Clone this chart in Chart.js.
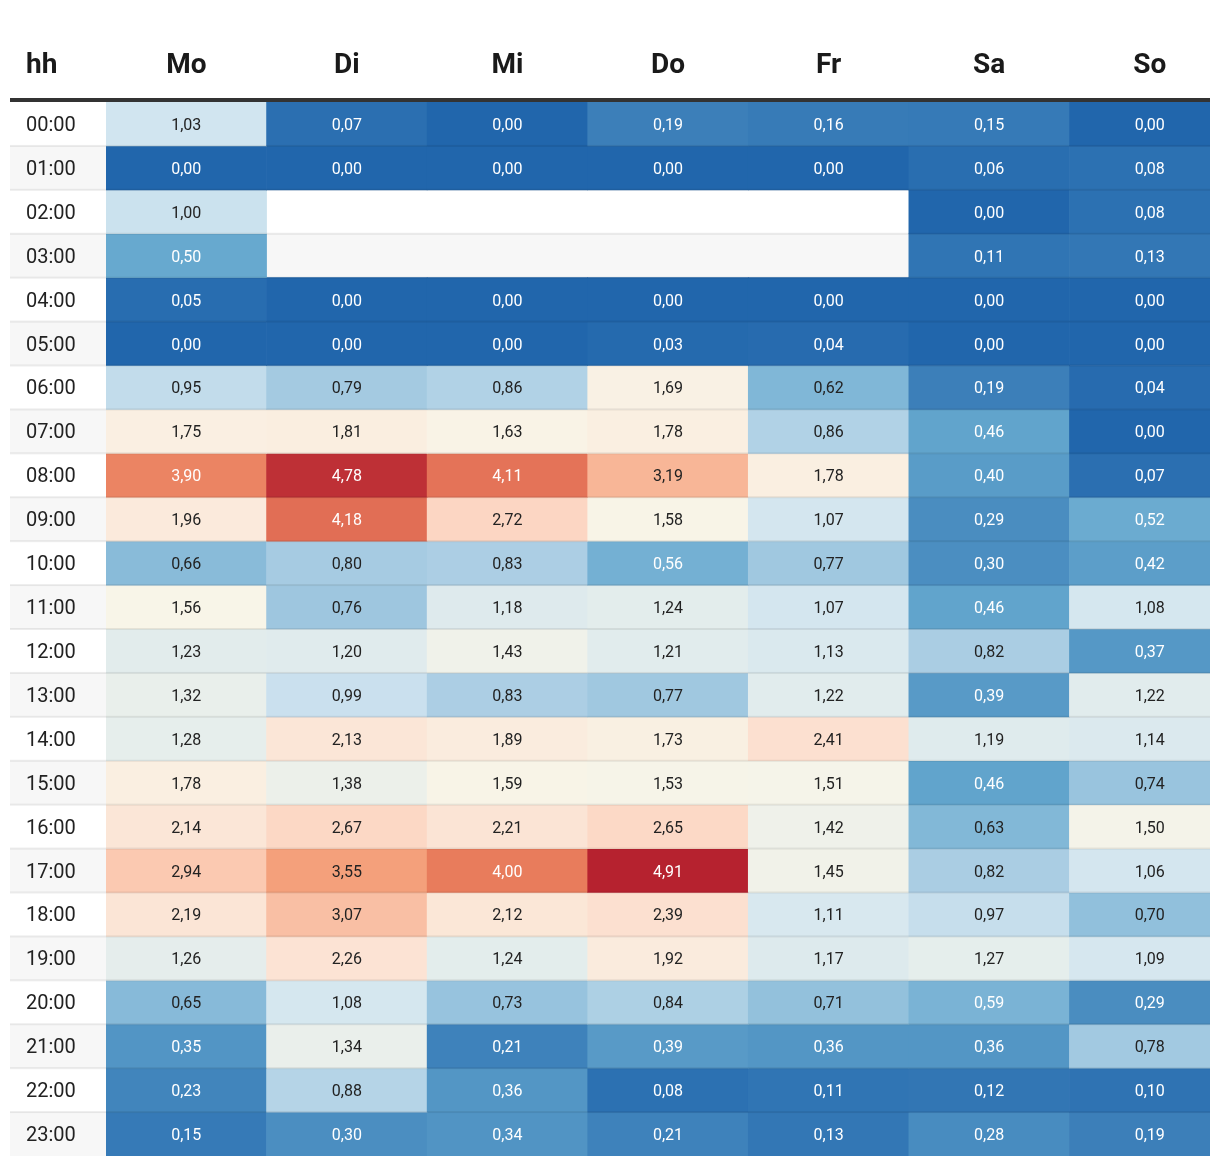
<!DOCTYPE html>
<html>
<head>
<meta charset="utf-8">
<script src="https://cdn.jsdelivr.net/npm/chart.js@4.4.1/dist/chart.umd.min.js"></script>
<style>
  html, body { margin: 0; padding: 0; background: #ffffff; overflow: hidden; }
  #wrap { width: 1240px; height: 1166px; }
</style>
</head>
<body>
<div id="wrap"><canvas id="c" width="1240" height="1166"></canvas></div>
<script>
const days = ['Mo', 'Di', 'Mi', 'Do', 'Fr', 'Sa', 'So'];
const hours = ['00:00','01:00','02:00','03:00','04:00','05:00','06:00','07:00','08:00','09:00','10:00','11:00',
               '12:00','13:00','14:00','15:00','16:00','17:00','18:00','19:00','20:00','21:00','22:00','23:00'];

const valuesMo = [1.03,0.00,1.00,0.50,0.05,0.00,0.95,1.75,3.90,1.96,0.66,1.56,1.23,1.32,1.28,1.78,2.14,2.94,2.19,1.26,0.65,0.35,0.23,0.15];
const valuesDi = [0.07,0.00,null,null,0.00,0.00,0.79,1.81,4.78,4.18,0.80,0.76,1.20,0.99,2.13,1.38,2.67,3.55,3.07,2.26,1.08,1.34,0.88,0.30];
const valuesMi = [0.00,0.00,null,null,0.00,0.00,0.86,1.63,4.11,2.72,0.83,1.18,1.43,0.83,1.89,1.59,2.21,4.00,2.12,1.24,0.73,0.21,0.36,0.34];
const valuesDo = [0.19,0.00,null,null,0.00,0.03,1.69,1.78,3.19,1.58,0.56,1.24,1.21,0.77,1.73,1.53,2.65,4.91,2.39,1.92,0.84,0.39,0.08,0.21];
const valuesFr = [0.16,0.00,null,null,0.00,0.04,0.62,0.86,1.78,1.07,0.77,1.07,1.13,1.22,2.41,1.51,1.42,1.45,1.11,1.17,0.71,0.36,0.11,0.13];
const valuesSa = [0.15,0.06,0.00,0.11,0.00,0.00,0.19,0.46,0.40,0.29,0.30,0.46,0.82,0.39,1.19,0.46,0.63,0.82,0.97,1.27,0.59,0.36,0.12,0.28];
const valuesSo = [0.00,0.08,0.08,0.13,0.00,0.00,0.04,0.00,0.07,0.52,0.42,1.08,0.37,1.22,1.14,0.74,1.50,1.06,0.70,1.09,0.29,0.78,0.10,0.19];

const seriesByDay = [valuesMo, valuesDi, valuesMi, valuesDo, valuesFr, valuesSa, valuesSo];

// colour scale stops (styling)
const colorStops = [
  [0.00, [33,102,172]],
  [0.50, [103,169,207]],
  [0.80, [166,203,226]],
  [1.03, [209,229,240]],
  [1.25, [228,237,236]],
  [1.56, [248,245,232]],
  [1.80, [250,238,224]],
  [2.40, [252,224,208]],
  [2.80, [252,212,192]],
  [3.20, [248,181,150]],
  [3.55, [244,160,123]],
  [4.00, [232,124,92]],
  [4.20, [224,108,84]],
  [4.91, [182,34,47]]
];
function colorFor(v) {
  if (v == null) return 'rgba(0,0,0,0)';
  let a = colorStops[0], b = colorStops[colorStops.length - 1];
  if (v <= a[0]) return 'rgb(' + a[1].join(',') + ')';
  if (v >= b[0]) return 'rgb(' + b[1].join(',') + ')';
  for (let i = 0; i < colorStops.length - 1; i++) {
    if (v >= colorStops[i][0] && v <= colorStops[i + 1][0]) { a = colorStops[i]; b = colorStops[i + 1]; break; }
  }
  const t = (v - a[0]) / (b[0] - a[0]);
  const c = a[1].map((x, k) => Math.round(x + (b[1][k] - x) * t));
  return 'rgb(' + c.join(',') + ')';
}
function textColorFor(v) {
  return (v < 0.6 || v > 3.7) ? '#ffffff' : '#222222';
}

const RIGHT_EDGE = 1210;
const LEFT_EDGE = 10;

const datasets = hours.map((h, hi) => ({
  label: h,
  data: days.map((d, di) => seriesByDay[di][hi] == null ? null : [hi, hi + 1]),
  cellValues: days.map((d, di) => seriesByDay[di][hi]),
  backgroundColor: days.map((d, di) => colorFor(seriesByDay[di][hi])),
  borderWidth: 0,
  grouped: false,
  barPercentage: 1,
  categoryPercentage: 1
}));

const tablePlugin = {
  id: 'tablePlugin',
  beforeDraw(chart) {
    const ctx = chart.ctx, y = chart.scales.y;
    ctx.save();
    for (let i = 0; i < hours.length; i++) {
      const t = y.getPixelForValue(i), b = y.getPixelForValue(i + 1);
      ctx.fillStyle = (i % 2) ? '#f7f7f7' : '#ffffff';
      ctx.fillRect(LEFT_EDGE, t, RIGHT_EDGE - LEFT_EDGE, b - t);
    }
    ctx.restore();
  },
  beforeDatasetsDraw(chart) {
    const ctx = chart.ctx;
    ctx.save();
    ctx.beginPath();
    ctx.rect(0, 0, RIGHT_EDGE, chart.height);
    ctx.clip();
  },
  afterDatasetsDraw(chart) {
    const ctx = chart.ctx, y = chart.scales.y;
    ctx.restore();
    ctx.save();
    // row separators
    ctx.fillStyle = 'rgba(0,0,0,0.075)';
    for (let i = 1; i < hours.length; i++) {
      const p = y.getPixelForValue(i);
      ctx.fillRect(LEFT_EDGE, p - 1, RIGHT_EDGE - LEFT_EDGE, 2);
    }
    // cell labels
    ctx.font = '16px Roboto';
    ctx.textAlign = 'center';
    ctx.textBaseline = 'middle';
    chart.data.datasets.forEach((ds, di) => {
      const meta = chart.getDatasetMeta(di);
      meta.data.forEach((bar, j) => {
        const v = ds.cellValues[j];
        if (v == null) return;
        const cy = (bar.y + bar.base) / 2;
        ctx.fillStyle = textColorFor(v);
        ctx.fillText(v.toFixed(2).replace('.', ','), bar.x, cy + 2);
      });
    });
    ctx.restore();
  },
  afterDraw(chart) {
    const ctx = chart.ctx, area = chart.chartArea;
    ctx.save();
    ctx.fillStyle = '#333333';
    ctx.fillRect(LEFT_EDGE, area.top - 4, RIGHT_EDGE - LEFT_EDGE, 4);
    ctx.fillStyle = '#1a1a1a';
    ctx.font = 'bold 28px Roboto';
    ctx.textAlign = 'left';
    ctx.textBaseline = 'middle';
    ctx.fillText('hh', 26, 66);
    ctx.restore();
  }
};

new Chart(document.getElementById('c'), {
  type: 'bar',
  data: { labels: days, datasets: datasets },
  options: {
    responsive: false,
    animation: false,
    devicePixelRatio: 1,
    layout: { padding: { left: 26, right: 10, top: 0, bottom: 10 } },
    plugins: { legend: { display: false }, tooltip: { enabled: false } },
    scales: {
      x: {
        type: 'category',
        position: 'top',
        grid: { display: false, drawTicks: false },
        border: { display: false },
        ticks: {
          padding: 19,
          color: '#1a1a1a',
          font: { family: 'Roboto', size: 28, weight: 'bold' },
          maxRotation: 0,
          autoSkip: false
        },
        afterFit(scale) { scale.height = 102; scale.paddingLeft = 0; scale.paddingRight = 0; }
      },
      y: {
        type: 'linear',
        min: 0,
        max: 24,
        reverse: true,
        grid: { display: false, drawTicks: false },
        border: { display: false },
        afterBuildTicks(scale) { scale.ticks = hours.map((h, i) => ({ value: i + 0.5 })); },
        ticks: {
          autoSkip: false,
          crossAlign: 'far',
          padding: 0,
          labelOffset: 2,
          color: '#222222',
          font: { family: 'Roboto', size: 20 },
          callback: (value) => hours[Math.floor(value)]
        },
        afterFit(scale) { scale.width = 80; scale.paddingTop = 0; scale.paddingBottom = 0; }
      }
    }
  },
  plugins: [tablePlugin]
});
</script>
</body>
</html>
